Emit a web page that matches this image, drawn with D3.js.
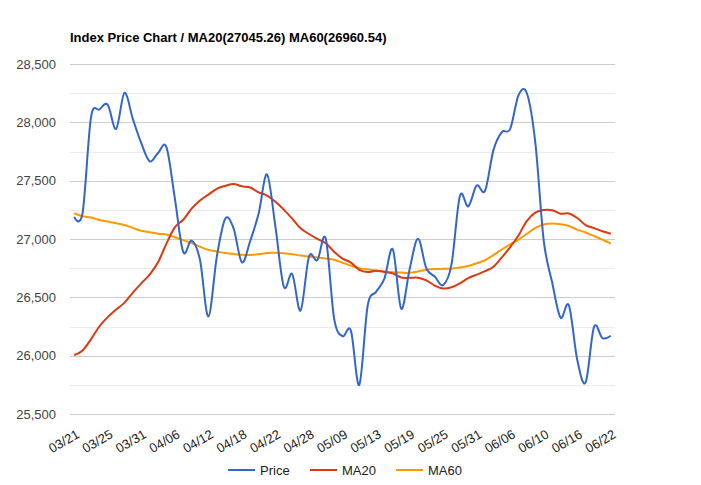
<!DOCTYPE html>
<html>
<head>
<meta charset="utf-8">
<script src="https://cdn.jsdelivr.net/npm/d3@7"></script>
<style>
body { margin: 0; background: #fff; }
text { font-family: Arial, "Liberation Sans", sans-serif; }
</style>
</head>
<body>
<svg id="chart" width="701" height="485"></svg>
<script>
var dates = ["03/21","03/22","03/23","03/24","03/25","03/28","03/29","03/30","03/31","04/01",
             "04/04","04/05","04/06","04/07","04/08","04/11","04/12","04/13","04/14","04/15",
             "04/18","04/19","04/20","04/21","04/22","04/25","04/26","04/27","04/28","05/02",
             "05/03","05/06","05/09","05/10","05/11","05/12","05/13","05/16","05/17","05/18",
             "05/19","05/20","05/23","05/24","05/25","05/26","05/27","05/30","05/31","06/01",
             "06/02","06/03","06/06","06/07","06/08","06/09","06/10","06/13","06/14","06/15",
             "06/16","06/17","06/20","06/21","06/22"];

var price = [27190,27224,28040,28110,28150,27944,28252,28027,27821,27666,
             27736,27788,27350,26889,26986,26822,26335,26843,27172,27093,
             26800,26985,27218,27553,27105,26591,26700,26387,26848,26819,
             27004,26319,26167,26214,25749,26428,26547,26660,26911,26403,
             26739,27002,26748,26678,26605,26782,27369,27280,27458,27414,
             27762,27916,27944,28234,28247,27824,26987,26630,26326,26431,
             25963,25771,26246,26150,26171];

var ma20 = [26005,26045,26140,26250,26330,26395,26455,26540,26620,26695,
            26800,26960,27100,27165,27260,27330,27380,27430,27455,27472,
            27452,27441,27399,27372,27319,27252,27174,27092,27043,27001,
            26964,26891,26832,26798,26736,26717,26727,26718,26705,26670,
            26667,26668,26645,26601,26576,26586,26619,26664,26694,26724,
            26762,26842,26931,27032,27156,27226,27248,27247,27217,27219,
            27180,27119,27093,27067,27045];

var ma60 = [27221,27195,27185,27163,27150,27135,27120,27095,27070,27058,
            27045,27038,27015,26990,26965,26935,26907,26893,26880,26872,
            26865,26863,26870,26880,26882,26878,26870,26858,26850,26842,
            26833,26822,26797,26772,26750,26740,26730,26722,26715,26712,
            26710,26722,26735,26742,26744,26745,26755,26768,26792,26818,
            26862,26910,26955,26995,27045,27095,27125,27133,27127,27112,
            27080,27056,27026,26994,26961];

var yTicks  = [25500,26000,26500,27000,27500,28000,28500];
var yMinor  = [25750,26250,26750,27250,27750,28250];
var seriesNames  = ["Price","MA20","MA60"];
var seriesColors = ["#3366cc","#dc3912","#ff9900"];

var svg = d3.select("#chart");
var plotLeft = 70, plotRight = 615, plotTop = 64, plotBottom = 414;

var x = d3.scalePoint()
    .domain(d3.range(dates.length))
    .range([plotLeft, plotRight])
    .padding(0.5);
var y = d3.scaleLinear()
    .domain([25500, 28500])
    .range([plotBottom, plotTop]);

// gridlines
svg.append("g").selectAll("line")
    .data(yMinor).enter().append("line")
        .attr("x1", plotLeft).attr("x2", plotRight)
        .attr("y1", function(d) { return Math.round(y(d))+0.5; })
        .attr("y2", function(d) { return Math.round(y(d))+0.5; })
        .attr("stroke", "#ebebeb");
svg.append("g").selectAll("line")
    .data(yTicks).enter().append("line")
        .attr("x1", plotLeft).attr("x2", plotRight)
        .attr("y1", function(d) { return Math.round(y(d))+0.5; })
        .attr("y2", function(d) { return Math.round(y(d))+0.5; })
        .attr("stroke", "#cccccc");

// y labels
svg.append("g").selectAll("text")
    .data(yTicks).enter().append("text")
        .attr("x", 56)
        .attr("y", function(d) { return y(d)+4.5; })
        .attr("text-anchor", "end")
        .attr("font-size", 13)
        .attr("fill", "#444")
        .text(d3.format(","));

// x labels, every 4th point
svg.append("g").selectAll("text")
    .data(d3.range(0, dates.length, 4)).enter().append("text")
        .attr("transform", function(i) { return "translate(" + (x(i)+6) + ",437) rotate(-30)"; })
        .attr("text-anchor", "end")
        .attr("font-size", 13)
        .attr("fill", "#222")
        .text(function(i) { return dates[i]; });

// lines
var line = d3.line()
    .x(function(d, i) { return x(i); })
    .y(function(d) { return y(d); })
    .curve(d3.curveCardinal.tension(0));

[ma60, ma20, price].forEach(function(s, k) {
    svg.append("path")
        .datum(s)
        .attr("d", line)
        .attr("fill", "none")
        .attr("stroke", seriesColors[2-k])
        .attr("stroke-width", 2);
});

// title
svg.append("text")
    .attr("x", 70)
    .attr("y", 42)
    .attr("font-size", 13)
    .attr("font-weight", "bold")
    .attr("fill", "#000")
    .text("Index Price Chart / MA20(27045.26) MA60(26960.54)");

// legend
var legendX = [228, 310, 396];
var legend = svg.append("g").selectAll("g")
    .data(seriesNames).enter().append("g")
        .attr("transform", function(d, i) { return "translate(" + legendX[i] + ",470)"; });
legend.append("line")
    .attr("x1", 0).attr("x2", 27)
    .attr("y1", 0).attr("y2", 0)
    .attr("stroke", function(d, i) { return seriesColors[i]; })
    .attr("stroke-width", 2);
legend.append("text")
    .attr("x", 32)
    .attr("y", 5)
    .attr("font-size", 13)
    .attr("fill", "#222")
    .text(function(d) { return d; });
</script>
</body>
</html>
